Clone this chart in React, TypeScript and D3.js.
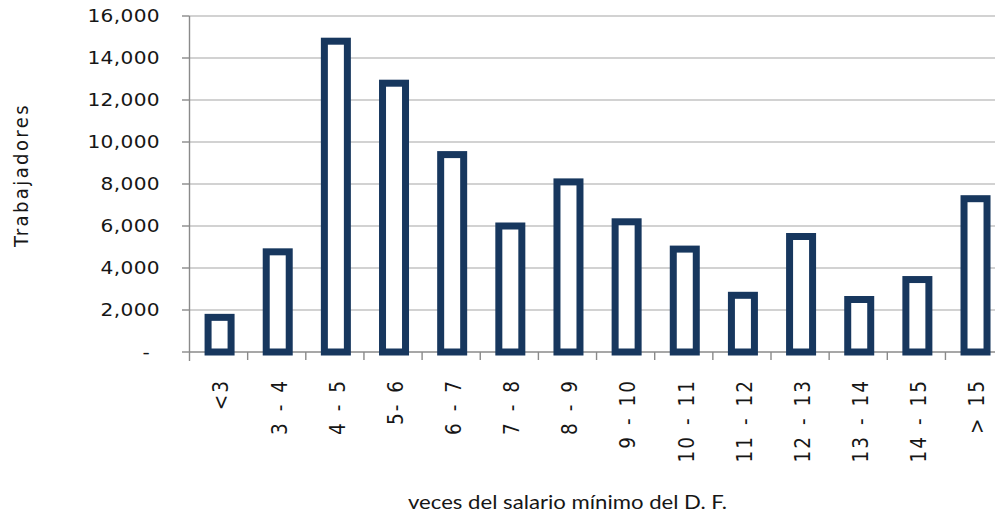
import React from "react";
import * as d3 from "d3";

// Salary brackets (multiples of the D.F. minimum wage) and worker counts
const categories = [
  "<3", "3 - 4", "4 - 5", "5- 6", "6 - 7", "7 - 8", "8 - 9",
  "9 - 10", "10 - 11", "11 - 12", "12 - 13", "13 - 14", "14 - 15", "> 15",
];
const workers = [1650, 4770, 14800, 12800, 9400, 6000, 8100, 6200, 4900, 2700, 5500, 2500, 3450, 7300];
const yTickValues = [0, 2000, 4000, 6000, 8000, 10000, 12000, 14000, 16000];

const W = 995;
const H = 516;
const plot = { left: 189.5, right: 1003.6, top: 16, bottom: 352 };

const BAR_COLOR = "#17375e";
const GRID_COLOR = "#c3c3c3";
const AXIS_COLOR = "#8a8a8a";
const TEXT_COLOR = "#161616";
const TICK_FONT = "'DejaVu Sans', Verdana, sans-serif";
// text is drawn slightly wide, as in the original export
const WIDEN = 1.12;

export default function App() {
  const x = d3.scaleBand<string>().domain(categories).range([plot.left, plot.right]).padding(0);
  const y = d3.scaleLinear().domain([0, 16000]).range([plot.bottom, plot.top]);
  const fmt = d3.format(",");
  const barW = 23;
  const stroke = 7;

  return (
    <svg
      width={W}
      height={H}
      style={{ position: "absolute", left: 0, top: 0, background: "#fff" }}
    >
      {/* horizontal gridlines */}
      {yTickValues.filter((v) => v > 0).map((v) => (
        <line
          key={"g" + v}
          x1={plot.left}
          x2={plot.right}
          y1={y(v)}
          y2={y(v)}
          stroke={GRID_COLOR}
          strokeWidth={1.6}
        />
      ))}

      {/* y axis with tick marks and labels */}
      <line x1={plot.left} x2={plot.left} y1={plot.top} y2={plot.bottom + 9} stroke={AXIS_COLOR} strokeWidth={1.4} />
      {yTickValues.map((v) => (
        <g key={"y" + v}>
          <line x1={plot.left - 7.5} x2={plot.left} y1={y(v)} y2={y(v)} stroke={AXIS_COLOR} strokeWidth={1.4} />
          <text
            transform={`translate(${v === 0 ? 150 : 160},${y(v)}) scale(${WIDEN},1)`}
            textAnchor="end"
            dominantBaseline="central"
            fontFamily={TICK_FONT}
            fontSize={18}
            letterSpacing={0.3}
            fill={TEXT_COLOR}
          >
            {v === 0 ? "-" : fmt(v)}
          </text>
        </g>
      ))}

      {/* x axis with tick marks between categories */}
      <line x1={plot.left} x2={plot.right} y1={plot.bottom} y2={plot.bottom} stroke={AXIS_COLOR} strokeWidth={1.4} />
      {categories.map((c) => (
        <line
          key={"t" + c}
          x1={(x(c) as number) + x.bandwidth()}
          x2={(x(c) as number) + x.bandwidth()}
          y1={plot.bottom}
          y2={plot.bottom + 8}
          stroke={AXIS_COLOR}
          strokeWidth={1.4}
        />
      ))}

      {/* outlined bars */}
      {categories.map((c, i) => {
        const cx = (x(c) as number) + x.bandwidth() / 2 + 1;
        return (
          <rect
            key={"b" + c}
            x={cx - barW / 2}
            y={y(workers[i])}
            width={barW}
            height={y(0) - y(workers[i])}
            fill="#fff"
            stroke={BAR_COLOR}
            strokeWidth={stroke}
          />
        );
      })}

      {/* rotated category labels */}
      {categories.map((c) => {
        const cx = (x(c) as number) + x.bandwidth() / 2 + 3;
        return (
          <text
            key={"l" + c}
            transform={`translate(${cx},379) scale(${WIDEN},1) rotate(-90)`}
            textAnchor="end"
            dominantBaseline="central"
            fontFamily={TICK_FONT}
            fontSize={18.5}
            letterSpacing={2}
            wordSpacing={2}
            fill={TEXT_COLOR}
          >
            {c}
          </text>
        );
      })}

      {/* axis titles */}
      <text
        transform={`translate(21,175) scale(${WIDEN},1) rotate(-90)`}
        textAnchor="middle"
        dominantBaseline="central"
        fontFamily={TICK_FONT}
        fontSize={18}
        letterSpacing={2.4}
        fill={TEXT_COLOR}
      >
        Trabajadores
      </text>
      <text
        x={567.5}
        y={509}
        textAnchor="middle"
        fontFamily="Lato, 'Open Sans', sans-serif"
        fontSize={20}
        textLength={319}
        lengthAdjust="spacingAndGlyphs"
        fill={TEXT_COLOR}
      >
        veces del salario mínimo del D. F.
      </text>
    </svg>
  );
}
